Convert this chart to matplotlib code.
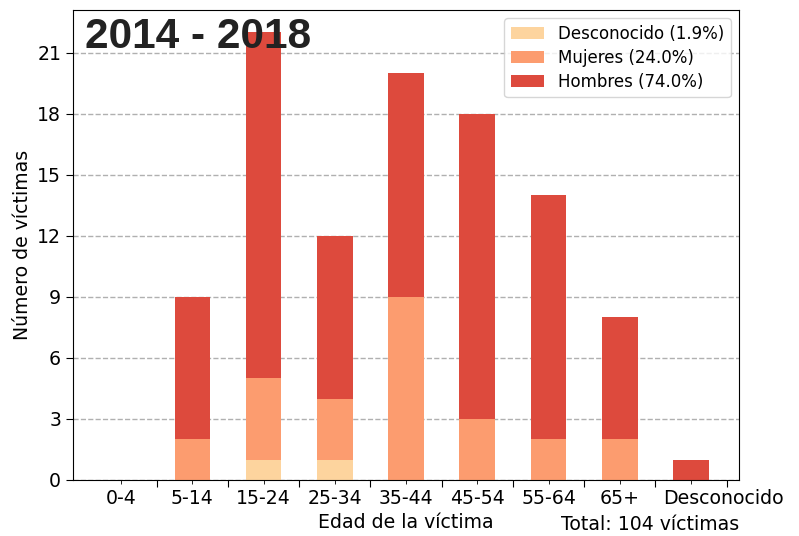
import matplotlib

matplotlib.use("Agg")
import matplotlib.pyplot as plt
import matplotlib.transforms as mtransforms
import numpy as np

age_groups = ["0-4", "5-14", "15-24", "25-34", "35-44", "45-54", "55-64",
              "65+", "Desconocido"]
unknown = [0, 0, 1, 1, 0, 0, 0, 0, 0]
women = [0, 2, 4, 3, 9, 3, 2, 2, 0]
men = [0, 7, 17, 8, 11, 15, 12, 6, 1]

series = [("Desconocido", unknown, "#fdd49e"),
          ("Mujeres", women, "#fc9c6f"),
          ("Hombres", men, "#dd4a3d")]

plt.rcParams["font.size"] = 13.6

fig = plt.figure(figsize=(7.99, 5.36), dpi=100)
ax = fig.add_axes([0.0914, 0.1045, 0.8336, 0.8769])

total = sum(sum(v) for _, v, _ in series)
x = np.arange(len(age_groups))
bottom = np.zeros(len(age_groups))
for name, vals, color in series:
    vals = np.array(vals, dtype=float)
    pct = vals.sum() / total * 100
    ax.bar(x, vals, width=0.5, bottom=bottom, color=color,
           label=f"{name} ({pct:.1f}%)")
    bottom += vals

ax.set_xticks(x + 0.5)
ax.set_xticklabels([])
ax.set_xticks(x, minor=True)
ax.set_xticklabels(age_groups, minor=True)
ax.tick_params(axis="x", which="major", length=5)
ax.tick_params(axis="x", which="minor", length=3)
ax.tick_params(axis="y", length=5)
ax.set_yticks(np.arange(0, 22, 3))

# last label sits to the right of its bar in the original
last = ax.get_xticklabels(minor=True)[-1]
last.set_transform(last.get_transform() +
                   mtransforms.ScaledTranslation(0.32, 0, fig.dpi_scale_trans))

ax.set_axisbelow(True)
ax.yaxis.grid(True, ls="--", color="#b0b0b0", lw=1)

ax.set_xlabel("Edad de la víctima", labelpad=4)
ax.set_ylabel("Número de víctimas")
ax.text(1.0, -50 / 470, f"Total: {total} víctimas", transform=ax.transAxes,
        ha="right", va="baseline")
ax.text(0.018, 0.985, "2014 - 2018", transform=ax.transAxes, ha="left",
        va="top", fontsize=30.5, fontweight="bold", family="Liberation Sans",
        color="#222222")
ax.legend(loc="upper right", fontsize=12, labelspacing=0.35)

fig.savefig("out.png", dpi=100)
